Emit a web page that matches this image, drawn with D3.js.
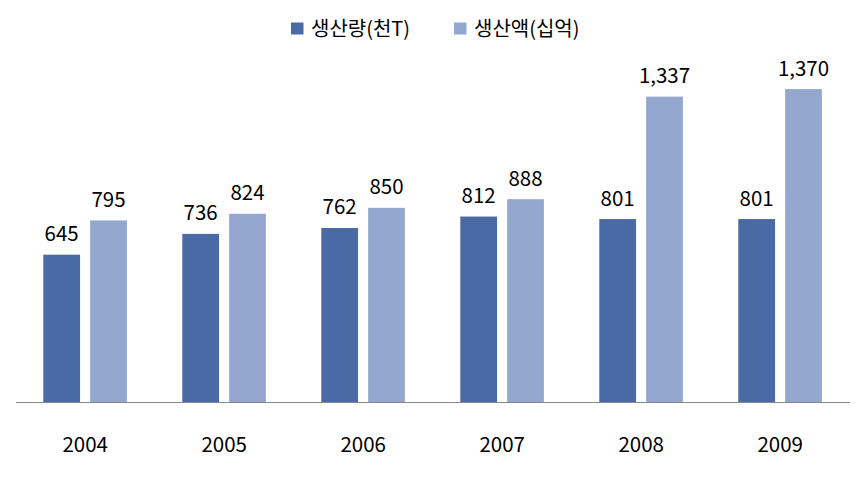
<!DOCTYPE html>
<html><head><meta charset="utf-8">
<script src="https://cdn.jsdelivr.net/npm/d3@7"></script>
<style>body{margin:0;background:#fff}svg{display:block}text{font-family:"Noto Sans CJK KR","Malgun Gothic",sans-serif;fill:#000}</style>
</head><body>
<svg id="c" width="866" height="477"></svg>
<script>
const categories = ["2004","2005","2006","2007","2008","2009"];
const seriesNames = ["생산량(천T)","생산액(십억)"];
const production = [645,736,762,812,801,801];
const value = [795,824,850,888,1337,1370];
const colors = ["#4A6AA5","#94A7CF"];

const svg = d3.select("#c");
const step = 139;
const x0 = d3.scaleBand().domain(categories).range([15.7, 15.7 + step*categories.length]);
const x1 = d3.scaleBand().domain([0,1]).range([27.6, 27.6+83.6]).paddingInner(9/83.6*2);
const y = d3.scaleLinear().domain([0,1600]).range([402, 402-1600*0.2284]);

const data = [production, value];
data.forEach((arr, si) => {
  const g = svg.append("g");
  g.selectAll("rect").data(arr).join("rect")
    .attr("x", (d,i) => x0(categories[i]) + x1(si))
    .attr("width", x1.bandwidth())
    .attr("y", d => y(d))
    .attr("height", d => y(0) - y(d))
    .attr("fill", colors[si]);
  g.selectAll("text").data(arr).join("text")
    .attr("x", (d,i) => x0(categories[i]) + x1(si) + x1.bandwidth()/2)
    .attr("y", d => y(d) - 13.5)
    .attr("text-anchor","middle")
    .attr("font-size", 20.5)
    .text(d => d3.format(",")(d));
});

const axis = svg.append("g").attr("transform","translate(0,402)")
  .call(d3.axisBottom(x0).tickSize(0).tickPadding(0));
axis.select(".domain").attr("stroke","#868686").attr("stroke-width",1.2);
axis.selectAll("text").attr("font-size",20.5).attr("dy",0).attr("y",50).style("font-family",'"Noto Sans CJK KR",sans-serif');

const legend = svg.append("g");
const lx = [291, 454];
seriesNames.forEach((n, i) => {
  legend.append("rect").attr("x", lx[i]).attr("y", 22.5).attr("width", 12.5).attr("height", 12).attr("fill", colors[i]);
  legend.append("text").attr("x", lx[i] + 20).attr("y", 35.5).attr("font-size", 20).text(n);
});
</script>
</body></html>
